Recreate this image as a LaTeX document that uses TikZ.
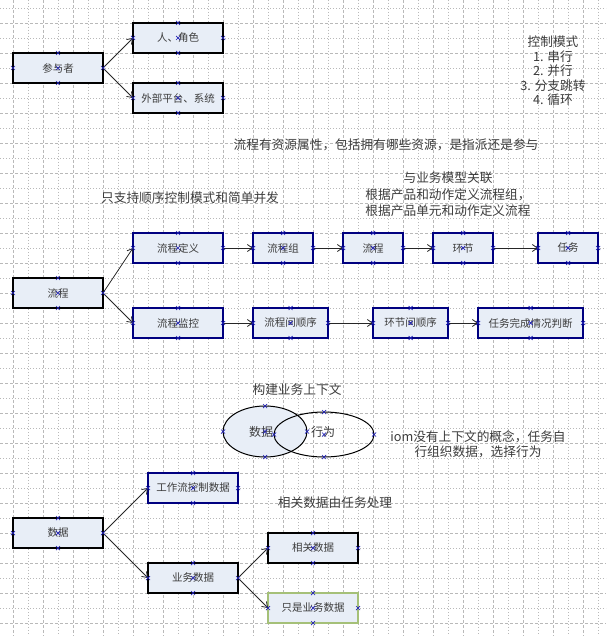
\documentclass[tikz,border=0pt]{standalone}
\usepackage{fontspec}
\setmainfont{Noto Sans CJK SC}
\usetikzlibrary{arrows.meta,shapes.geometric}
\definecolor{boxfill}{RGB}{232,238,247}
\definecolor{navyb}{RGB}{0,0,128}
\definecolor{greenb}{RGB}{165,192,120}
\definecolor{txt}{RGB}{60,60,60}
\definecolor{gridc}{RGB}{185,185,185}
\definecolor{markc}{RGB}{30,30,180}
\tikzset{
  box/.style={draw=black, fill=boxfill, line width=1.2pt, minimum height=30pt, inner sep=0pt, outer sep=0pt, text=txt, font=\fontsize{10.5}{12}\selectfont},
  nbox/.style={box, draw=navyb},
  gbox/.style={box, draw=greenb},
  ell/.style={ellipse, draw=black, line width=1pt, inner sep=0pt, outer sep=0pt, text=txt, font=\fontsize{12}{14}\selectfont},
  conn/.style={-{Straight Barb[length=5pt,width=7pt]}, line width=0.8pt, black!85},
  note/.style={text=txt, font=\fontsize{12.7}{14.5}\selectfont, align=center, inner sep=0pt},
  xm/.style={markc, line width=0.7pt},
  gdash/.style={gridc, line width=0.6pt, dash pattern=on 3pt off 2pt},
  gdot/.style={gridc, line width=0.6pt, dash pattern=on 1pt off 2pt},
}
\begin{document}
\begin{tikzpicture}[x=1pt,y=-1pt]
\useasboundingbox (0,0) rectangle (606,636);
\fill[white] (0,0) rectangle (606,636);
% grid
\foreach \k in {0,...,39} {
  \ifodd\k \draw[gdot] (13+15*\k,0) -- (13+15*\k,636);
  \else \draw[gdash] (13+15*\k,0) -- (13+15*\k,636); \fi
}
\foreach \k in {0,...,41} {
  \ifodd\k \draw[gdash] (0,8+15*\k) -- (606,8+15*\k);
  \else \draw[gdot] (0,8+15*\k) -- (606,8+15*\k); \fi
}

% participants
\node[box, minimum width=90pt] (p1) at (58,68) {参与者};
\node[box, minimum width=90pt] (p2) at (178,38) {人、角色};
\node[box, minimum width=90pt] (p3) at (178,98) {外部平台、系统};
\draw[conn] (p1.east) -- (p2.west);
\draw[conn] (p1.east) -- (p3.west);

\node[note] (cm) at (553,71) {控制模式\\1. 串行\\2. 并行\\3. 分支跳转\\4. 循环};
\node[note] (res) at (386,145) {流程有资源属性，包括拥有哪些资源，是指派还是参与};
\node[note] (seq) at (190,198) {只支持顺序控制模式和简单并发};
\node[note, font=\fontsize{12.7}{16.5}\selectfont] (biz) at (448,194.5) {与业务模型关联\\根据产品和动作定义流程组，\\根据产品单元和动作定义流程};

% process
\node[box, minimum width=90pt] (f0) at (58,293) {流程};
\node[nbox, minimum width=90pt] (f1) at (178,248) {流程定义};
\node[nbox, minimum width=60pt] (f2) at (283,248) {流程组};
\node[nbox, minimum width=60pt] (f3) at (373,248) {流程};
\node[nbox, minimum width=60pt] (f4) at (463,248) {环节};
\node[nbox, minimum width=60pt] (f5) at (568,248) {任务};
\node[nbox, minimum width=90pt] (g1) at (178,323) {流程监控};
\node[nbox, minimum width=75pt] (g2) at (290.5,323) {流程间顺序};
\node[nbox, minimum width=75pt] (g3) at (410.5,323) {环节间顺序};
\node[nbox, minimum width=105pt] (g4) at (530.5,323) {任务完成情况判断};
\draw[conn] (f0.east) -- (f1.west);
\draw[conn] (f0.east) -- (g1.west);
\draw[conn] (f1.east) -- (f2.west);
\draw[conn] (f2.east) -- (f3.west);
\draw[conn] (f3.east) -- (f4.west);
\draw[conn] (f4.east) -- (f5.west);
\draw[conn] (g1.east) -- (g2.west);
\draw[conn] (g2.east) -- (g3.west);
\draw[conn] (g3.east) -- (g4.west);

% context
\node[note] (ctx) at (297,390) {构建业务上下文};
\node[ell, fill=boxfill, minimum width=84pt, minimum height=51pt] (e1) at (265,431.5) {};
\node[ell, minimum width=100pt, minimum height=45pt] (e2) at (324,434.5) {};
\node[text=txt, font=\fontsize{12}{14}\selectfont, inner sep=0pt] (t1) at (261,432) {数据};
\node[text=txt, font=\fontsize{12}{14}\selectfont, inner sep=0pt] (t2) at (323,432) {行为};
\node[note, font=\fontsize{12.7}{15}\selectfont] (iom) at (478,444.5) {iom没有上下文的概念，任务自\\行组织数据，选择行为};

% data
\node[box, minimum width=90pt] (d0) at (58,533) {数据};
\node[nbox, minimum width=90pt] (d1) at (193,488) {工作流控制数据};
\node[box, minimum width=90pt] (d2) at (193,578) {业务数据};
\node[box, minimum width=90pt] (d3) at (313,548) {相关数据};
\node[gbox, minimum width=90pt] (d4) at (313,608) {只是业务数据};
\node[note] (rel) at (335,503) {相关数据由任务处理};
\draw[conn] (d0.east) -- (d1.west);
\draw[conn] (d0.east) -- (d2.west);
\draw[conn] (d2.east) -- (d3.west);
\draw[conn] (d2.east) -- (d4.west);

% connection point marks
\foreach \n in {p1,p2,p3,f0,f1,f2,f3,f4,f5,g1,g2,g3,g4,d0,d1,d2,d3,d4,e1,e2} {
  \foreach \a in {north,south,east,west,center} {
    \draw[xm] (\n.\a) +(-2,-2) -- +(2,2) +(-2,2) -- +(2,-2);
  }
}
\end{tikzpicture}
\end{document}
